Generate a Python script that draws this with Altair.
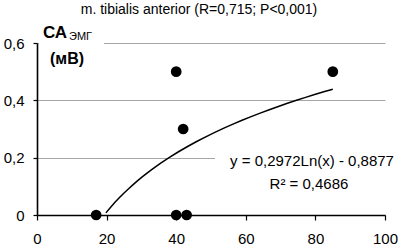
import altair as alt
import pandas as pd

# ---- data ----
x_vals = [17, 40, 43, 40, 42, 85]
y_vals = [0, 0, 0, 0.5, 0.3, 0.5]
x_ticks = [0, 20, 40, 60, 80, 100]
y_ticks = [0, 0.2, 0.4, 0.6]
trend_extent = [19.8, 85]
title_text = "m. tibialis anterior (R=0,715; P<0,001)"
eq_text = "y = 0,2972Ln(x) - 0,8877"
r2_text = "R² = 0,4686"
y_title_main = "СА"
y_title_sub = "ЭМГ"
y_unit = "(мВ)"

df = pd.DataFrame({"x": x_vals, "y": y_vals})
FONT = "Liberation Sans"

xs = alt.Scale(domain=[0, 100], nice=False, zero=False)
ys = alt.Scale(domain=[0, 0.6], nice=False)

x_axis = alt.Axis(values=x_ticks, title=None, grid=False, domainColor="black",
                  domainWidth=1.6, tickColor="black", tickWidth=1.2, tickSize=5,
                  labelPadding=11, labelFontSize=15, labelFont=FONT, labelColor="black",
                  labelFlush=False)
y_axis = alt.Axis(values=y_ticks, title=None, grid=True, gridColor="#a6a6a6", gridWidth=1,
                  domainColor="black", domainWidth=1.6, tickColor="black", tickWidth=1.2,
                  tickSize=4, labelPadding=9, labelFontSize=15, labelFont=FONT,
                  labelColor="black", labelFlush=False,
                  labelExpr="datum.value == 0 ? '0' : replace(format(datum.value, '.1f'), '.', ',')")

base = alt.Chart(df)

points = base.mark_circle(size=115, color="black", opacity=1).encode(
    x=alt.X("x:Q", scale=xs, axis=x_axis),
    y=alt.Y("y:Q", scale=ys, axis=y_axis),
)

trend = base.transform_regression("x", "y", method="log", extent=trend_extent).mark_line(
    color="black", strokeWidth=1.5
).encode(
    x=alt.X("x:Q", scale=xs),
    y=alt.Y("y:Q", scale=ys),
)

one = alt.Chart(pd.DataFrame({"k": [0]}))

mask1 = one.mark_rect(color="white").encode(
    x=alt.value(2), x2=alt.value(67), y=alt.value(-8), y2=alt.value(8))
mask2 = one.mark_rect(color="white").encode(
    x=alt.value(178), x2=alt.value(349), y=alt.value(108), y2=alt.value(124))

def label(txt, x, y, size, bold=False, align="left", baseline="alphabetic"):
    return alt.Chart(pd.DataFrame({"t": [txt]})).mark_text(
        font=FONT, fontSize=size, fontWeight="bold" if bold else "normal",
        align=align, baseline=baseline, color="black"
    ).encode(text="t:N", x=alt.value(x), y=alt.value(y))

title = label(title_text, 162, -29, 14, align="center")
yt1 = label(y_title_main, 6, -5, 17, bold=True)
yt2 = label(y_title_sub, 32, -3, 11)
yt3 = label(y_unit, 13, 21, 16, bold=True)
eq = label(eq_text, 275, 118, 15, align="center", baseline="middle")
r2 = label(r2_text, 272, 141, 15, align="center", baseline="middle")

chart = alt.layer(mask1, mask2, trend, points, title, yt1, yt2, yt3, eq, r2).properties(
    width=348, height=172,
    padding={"left": 37, "top": 43, "right": 14, "bottom": 35},
    autosize=alt.AutoSizeParams(type="none"),
    background="white",
).configure_view(stroke=None)

chart.save("out.html", embed_options={"renderer": "svg", "actions": False})
